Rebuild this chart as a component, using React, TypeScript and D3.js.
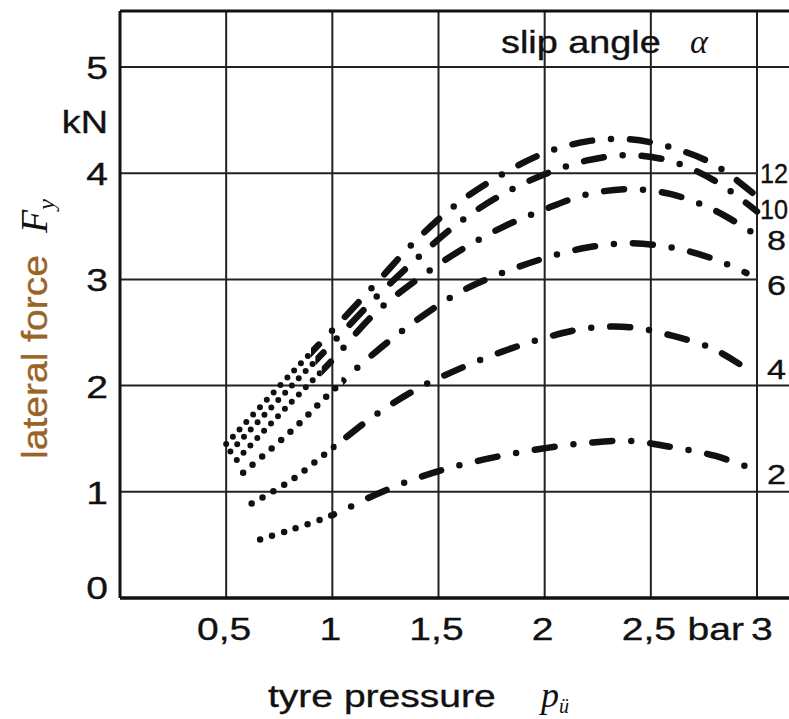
import React from "react";
import * as d3 from "d3";

const W = 789;
const H = 719;

const slipAngles = [2, 4, 6, 8, 10, 12];

const pressure2 = [0.66, 0.8, 1.0, 1.2, 1.4, 1.6, 1.8, 2.0, 2.2, 2.4, 2.6, 2.8, 3.0];
const force2 = [0.55, 0.64, 0.78, 0.97, 1.13, 1.25, 1.34, 1.41, 1.46, 1.48, 1.42, 1.34, 1.2];

const pressure4 = [0.62, 0.8, 1.0, 1.2, 1.4, 1.6, 1.8, 2.0, 2.2, 2.4, 2.6, 2.8, 2.95];
const force4 = [0.89, 1.1, 1.41, 1.72, 1.97, 2.16, 2.32, 2.45, 2.54, 2.55, 2.47, 2.34, 2.16];

const pressure6 = [0.58, 0.8, 1.0, 1.2, 1.4, 1.6, 1.8, 2.0, 2.2, 2.4, 2.6, 2.8, 2.95];
const force6 = [1.18, 1.56, 1.95, 2.31, 2.62, 2.88, 3.06, 3.2, 3.3, 3.34, 3.3, 3.19, 3.06];

const pressure8 = [0.55, 0.8, 1.0, 1.2, 1.4, 1.6, 1.8, 2.0, 2.2, 2.4, 2.6, 2.8, 2.98];
const force8 = [1.3, 1.83, 2.24, 2.68, 3.0, 3.27, 3.49, 3.66, 3.8, 3.85, 3.8, 3.65, 3.44];

const pressure10 = [0.52, 0.8, 1.0, 1.2, 1.4, 1.6, 1.8, 2.0, 2.2, 2.4, 2.6, 2.8, 3.0];
const force10 = [1.38, 1.98, 2.4, 2.82, 3.2, 3.54, 3.8, 3.99, 4.12, 4.17, 4.11, 3.93, 3.64];

const pressure12 = [0.5, 0.8, 1.0, 1.2, 1.4, 1.6, 1.8, 2.0, 2.2, 2.4, 2.6, 2.8, 3.0];
const force12 = [1.45, 2.1, 2.52, 2.95, 3.38, 3.73, 3.99, 4.19, 4.3, 4.32, 4.24, 4.08, 3.78];

// pressure where the line changes from dotted to dash-dot
const switchPressure = [1.0, 1.02, 1.05, 0.95, 0.92, 0.9];
// force value at which the slip-angle label sits at the right edge
const labelForce = [1.17, 2.16, 2.95, 3.37, 3.66, 4.0];

const xTicks = [0.5, 1, 1.5, 2, 2.5];
const xTickLabels = ["0,5", "1", "1,5", "2", "2,5"];
const yTicks = [0, 1, 2, 3, 4, 5];
const yTickLabels = ["0", "1", "2", "3", "4", "5"];

const pressures = [pressure2, pressure4, pressure6, pressure8, pressure10, pressure12];
const forces = [force2, force4, force6, force8, force10, force12];

const SANS = "'Liberation Sans', Arial, Helvetica, sans-serif";
const SERIF = "'Liberation Serif', 'DejaVu Serif', serif";
const SX = 1.22;
const INK = "#111";

function HText(props: {
  x: number;
  y: number;
  anchor?: "start" | "middle" | "end";
  size?: number;
  sx?: number;
  fill?: string;
  children: React.ReactNode;
}) {
  const { x, y, anchor = "start", size = 32, sx = SX, fill = INK, children } = props;
  return (
    <text
      transform={`translate(${x},${y}) scale(${sx},1)`}
      textAnchor={anchor}
      fontFamily={SANS}
      fontSize={size}
      fill={fill}
      stroke={fill}
      strokeWidth={0.35}
    >
      {children}
    </text>
  );
}

export default function App() {
  const x = d3.scaleLinear().domain([0, 3]).range([120, 757]);
  const y = d3.scaleLinear().domain([0, 5]).range([598, 67]);

  const line = d3
    .line<[number, number]>()
    .x((d) => x(d[0]))
    .y((d) => y(d[1]))
    .curve(d3.curveCatmullRom.alpha(0.5));

  const left = x(0);
  const right = x(3);
  const top = 11;
  const bottom = y(0);

  return (
    <svg
      width={W}
      height={H}
      viewBox={`0 0 ${W} ${H}`}
      style={{ position: "absolute", left: 0, top: 0, background: "#fff" }}
    >
      <rect x={0} y={0} width={W} height={H} fill="#fff" />
      <defs>
        {slipAngles.map((a, i) => (
          <React.Fragment key={a}>
            <clipPath id={`dot-${a}`}>
              <rect x={0} y={0} width={x(switchPressure[i])} height={H} />
            </clipPath>
            <clipPath id={`dash-${a}`}>
              <rect x={x(switchPressure[i])} y={0} width={W} height={H} />
            </clipPath>
          </React.Fragment>
        ))}
      </defs>

      {/* grid: vertical */}
      {xTicks.map((t) => (
        <line key={`vx${t}`} x1={x(t)} x2={x(t)} y1={top} y2={bottom} stroke="#222" strokeWidth={2} />
      ))}
      <line x1={right} x2={right} y1={top} y2={bottom} stroke="#222" strokeWidth={2} />

      {/* grid: horizontal */}
      {yTicks
        .filter((t) => t > 0)
        .map((t) => (
          <line
            key={`hy${t}`}
            x1={left}
            x2={t === 3 || t === 4 ? right : W}
            y1={y(t)}
            y2={y(t)}
            stroke="#222"
            strokeWidth={2}
          />
        ))}

      {/* frame */}
      <line x1={left} x2={W} y1={top} y2={top} stroke={INK} strokeWidth={3} />
      <line x1={left} x2={left} y1={top} y2={bottom} stroke={INK} strokeWidth={3} />
      <line x1={left} x2={W} y1={bottom} y2={bottom} stroke={INK} strokeWidth={3.5} />

      {/* curves */}
      {slipAngles.map((a, i) => {
        const pts = pressures[i].map((p, j) => [p, forces[i][j]] as [number, number]);
        const d = line(pts) || "";
        const cluster = a >= 8;
        return (
          <g key={`c${a}`} fill="none" stroke={INK} strokeLinecap="round">
            <path
              d={d}
              clipPath={`url(#dot-${a})`}
              strokeWidth={cluster ? 6 : 6.5}
              strokeDasharray={cluster ? "0 10" : "0 12.5"}
            />
            <path d={d} clipPath={`url(#dash-${a})`} strokeWidth={6.5} strokeDasharray="20 19 0 19" />
          </g>
        );
      })}

      {/* curve labels */}
      {slipAngles.map((a, i) => (
        <HText
          key={`l${a}`}
          x={right + (a >= 10 ? 3 : 10)}
          y={y(labelForce[i]) + 10}
          size={28}
          sx={a >= 10 ? 0.9 : SX}
        >
          {String(a)}
        </HText>
      ))}

      {/* y tick labels */}
      {yTicks.map((t, i) => (
        <HText key={`yt${t}`} x={108} y={t === 0 ? y(0) + 1 : y(t) + 12} anchor="end">
          {yTickLabels[i]}
        </HText>
      ))}
      <HText x={108} y={133} anchor="end" size={31}>
        kN
      </HText>

      {/* x tick labels */}
      {xTicks.map((t, i) => (
        <HText key={`xt${t}`} x={x(t) - 2} y={640} anchor="middle">
          {xTickLabels[i]}
        </HText>
      ))}
      <HText x={744} y={640} anchor="end">
        bar
      </HText>
      <HText x={751} y={640} anchor="start">
        3
      </HText>

      {/* legend title */}
      <HText x={501} y={53} size={31}>
        slip angle
      </HText>
      <text x={690} y={53} fontFamily={SERIF} fontStyle="italic" fontSize={34} fill={INK}>
        α
      </text>

      {/* x axis title */}
      <HText x={268} y={707} size={32}>
        tyre pressure
      </HText>
      <text x={541} y={707} fontFamily={SERIF} fontStyle="italic" fontSize={36} fill={INK}>
        p
        <tspan fontSize={20} dy={6}>
          ü
        </tspan>
      </text>

      {/* y axis title */}
      <text
        transform={`translate(47,459) rotate(-90) scale(${SX},1.08)`}
        fontFamily={SANS}
        fontSize={32}
        fill="#9a6426"
        stroke="#9a6426"
        strokeWidth={0.35}
      >
        lateral force
      </text>
      <text
        transform={`translate(47,233) rotate(-90)`}
        fontFamily={SERIF}
        fontStyle="italic"
        fontSize={38}
        fill={INK}
      >
        F
        <tspan fontSize={24} dy={7}>
          y
        </tspan>
      </text>
    </svg>
  );
}
